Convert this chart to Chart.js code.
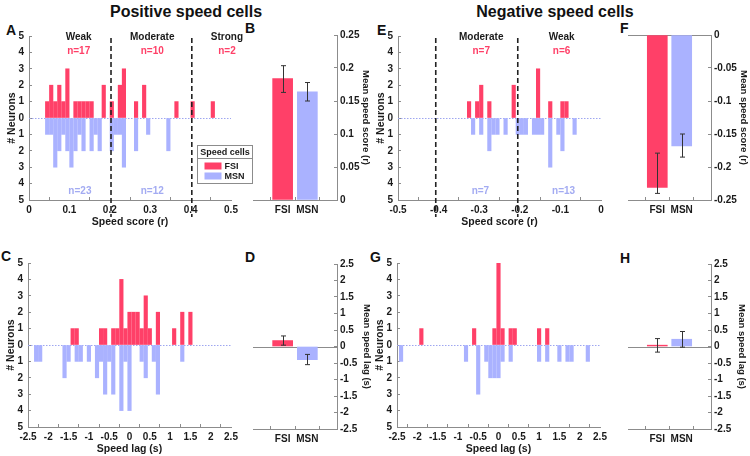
<!DOCTYPE html>
<html>
<head>
<meta charset="utf-8">
<title>Speed cells</title>
<script src="https://cdn.jsdelivr.net/npm/chart.js@4.4.1/dist/chart.umd.min.js"></script>
<style>
  body { margin: 0; width: 750px; height: 456px; position: relative; overflow: hidden; background: #fff;
         font-family: "Liberation Sans", Arial, sans-serif; }
  canvas { position: absolute; }
  .lbl { position: absolute; font-weight: bold; color: #111; line-height: 1; white-space: nowrap; }
  .big { font-size: 16px; transform: translateX(-50%); }
  .pan { font-size: 14px; }
</style>
</head>
<body>
<div class="lbl big" style="left:186px;top:4px">Positive speed cells</div>
<div class="lbl big" style="left:555px;top:4px">Negative speed cells</div>
<div class="lbl pan" style="left:6px;top:23px">A</div>
<div class="lbl pan" style="left:245px;top:21px">B</div>
<div class="lbl pan" style="left:377px;top:23px">E</div>
<div class="lbl pan" style="left:620px;top:21px">F</div>
<div class="lbl pan" style="left:1px;top:249px">C</div>
<div class="lbl pan" style="left:245px;top:250px">D</div>
<div class="lbl pan" style="left:370px;top:250px">G</div>
<div class="lbl pan" style="left:620px;top:251px">H</div>

<script>
const RED = "#ff4068";
const BLUE = "#aab2ff";
const BLUE_TXT = "#a3abf2";
const AXIS = "#8c8c8c";
const INK = "#1a1a1a";

// tick labels
const countTicks = [-5, -4, -3, -2, -1, 0, 1, 2, 3, 4, 5];
const posScoreTicks = [0, 0.1, 0.2, 0.3, 0.4, 0.5];
const negScoreTicks = [-0.5, -0.4, -0.3, -0.2, -0.1, 0];
const lagTicks = [-2.5, -2, -1.5, -1, -0.5, 0, 0.5, 1, 1.5, 2, 2.5];
const meanPosTicks = [0, 0.05, 0.1, 0.15, 0.2, 0.25];
const meanNegTicks = [-0.25, -0.2, -0.15, -0.1, -0.05, 0];
const meanLagTicks = [-2.5, -2, -1.5, -1, -0.5, 0, 0.5, 1, 1.5, 2, 2.5];
const groups = ["FSI", "MSN"];

// A - positive speed score histogram
const posScoreFsiX = [0.045, 0.055, 0.065, 0.075, 0.085, 0.095, 0.115, 0.125, 0.135, 0.145, 0.155, 0.185, 0.205, 0.225, 0.235, 0.265, 0.285, 0.365, 0.405, 0.455];
const posScoreFsiN = [1, 2, 1, 2, 1, 3, 1, 1, 1, 1, 1, 2, 1, 2, 3, 1, 2, 1, 1, 1];
const posScoreMsnX = [0.045, 0.055, 0.065, 0.075, 0.085, 0.095, 0.105, 0.115, 0.125, 0.135, 0.155, 0.165, 0.175, 0.205, 0.215, 0.225, 0.235, 0.265, 0.295, 0.345];
const posScoreMsnN = [1, 1, 3, 2, 1, 2, 3, 2, 1, 2, 2, 1, 2, 2, 1, 1, 3, 2, 1, 2];
const posCuts = [0.203, 0.403];
const posZoneX = [0.123, 0.305, 0.49];
const posZoneName = ["Weak", "Moderate", "Strong"];
const posZoneFsi = ["n=17", "n=10", "n=2"];
const posZoneMsnX = [0.126, 0.305];
const posZoneMsn = ["n=23", "n=12"];

// E - negative speed score histogram
const negScoreFsiX = [-0.325, -0.305, -0.295, -0.275, -0.215, -0.155, -0.125, -0.095, -0.085];
const negScoreFsiN = [1, 1, 2, 1, 2, 3, 1, 1, 1];
const negScoreMsnX = [-0.315, -0.295, -0.275, -0.265, -0.255, -0.235, -0.205, -0.195, -0.185, -0.165, -0.155, -0.145, -0.125, -0.105, -0.095, -0.065];
const negScoreMsnN = [1, 1, 2, 1, 1, 1, 1, 1, 1, 1, 1, 1, 3, 1, 2, 1];
const negCuts = [-0.407, -0.205];
const negZoneX = [-0.295, -0.097];
const negZoneName = ["Moderate", "Weak"];
const negZoneFsi = ["n=7", "n=6"];
const negZoneMsnX = [-0.297, -0.092];
const negZoneMsn = ["n=7", "n=13"];

// C - positive cells speed lag histogram
const posLagFsiX = [-1.4, -1.3, -0.7, -0.6, -0.4, -0.3, -0.2, -0.1, 0, 0.1, 0.2, 0.3, 0.4, 0.5, 0.7, 1.1, 1.3, 1.5];
const posLagFsiN = [1, 1, 1, 1, 1, 1, 4, 1, 2, 2, 2, 1, 3, 1, 2, 1, 2, 2];
const posLagMsnX = [-2.3, -2.2, -1.6, -1.5, -1.3, -1.2, -1.0, -0.8, -0.7, -0.6, -0.5, -0.4, -0.2, -0.1, 0, 0.3, 0.4, 0.6, 0.7, 1.3];
const posLagMsnN = [1, 1, 2, 1, 1, 1, 1, 2, 1, 3, 1, 3, 4, 1, 4, 1, 2, 1, 3, 1];

// G - negative cells speed lag histogram
const negLagFsiX = [-1.9, -0.6, -0.1, 0, 0.1, 0.3, 0.4, 1.0, 1.2];
const negLagFsiN = [1, 1, 1, 5, 1, 1, 1, 1, 1];
const negLagMsnX = [-2.4, -0.8, -0.5, -0.3, -0.2, -0.1, 0, 0.1, 0.3, 1.0, 1.2, 1.5, 1.7, 1.8, 2.2];
const negLagMsnN = [1, 1, 3, 1, 2, 2, 2, 1, 1, 1, 1, 1, 1, 1, 1];

// B, F, D, H - group means with error bar ends
const posScoreMean = [0.184, 0.164];
const posScoreHi = [0.2035, 0.178];
const posScoreLo = [0.163, 0.150];
const negScoreMean = [-0.231, -0.168];
const negScoreHi = [-0.179, -0.150];
const negScoreLo = [-0.240, -0.185];
const posLagMean = [0.18, -0.40];
const posLagHi = [0.32, -0.24];
const posLagLo = [0.04, -0.55];
const negLagMean = [0.04, 0.22];
const negLagHi = [0.24, 0.455];
const negLagLo = [-0.17, -0.02];

Chart.defaults.font.family = "'Liberation Sans', Arial, sans-serif";
Chart.defaults.color = INK;

function fmt(v) {
  return String(Math.round(v * 100) / 100);
}

function fixedTicks(values) {
  return function (scale) {
    scale.ticks = values.map(v => ({ value: v }));
  };
}

function sized(prop, size) {
  return function (scale) {
    scale[prop] = size;
    scale.paddingLeft = 0;
    scale.paddingRight = 0;
    scale.paddingTop = 0;
    scale.paddingBottom = 0;
  };
}

function makeCanvas(box, pad) {
  const c = document.createElement("canvas");
  const w = box.r - box.l + pad.l + pad.r;
  const h = box.b - box.t + pad.t + pad.b;
  c.width = w;
  c.height = h;
  c.style.left = (box.l - pad.l) + "px";
  c.style.top = (box.t - pad.t) + "px";
  c.style.width = w + "px";
  c.style.height = h + "px";
  document.body.appendChild(c);
  return c;
}

function axisBase(min, max, ticks, callback, fitProp, fitSize, padding) {
  return {
    type: "linear",
    min: min,
    max: max,
    offset: false,
    border: { display: true, color: AXIS, width: 1 },
    grid: { display: true, drawOnChartArea: false, drawTicks: true, tickLength: -3, color: AXIS },
    ticks: { color: INK, font: { size: 10, weight: "bold" }, padding: padding, autoSkip: false, maxRotation: 0, callback: callback },
    afterBuildTicks: fixedTicks(ticks),
    afterFit: sized(fitProp, fitSize)
  };
}

// dashed cut lines, zero line, text, legend and error bars
const decor = {
  id: "decor",
  beforeDatasetsDraw(chart, args, o) {
    const ctx = chart.ctx;
    const a = chart.chartArea;
    const y0 = chart.scales.y.getPixelForValue(0);
    ctx.save();
    if (o.zeroDotted) {
      ctx.strokeStyle = "#9ea6f0";
      ctx.lineWidth = 1;
      ctx.setLineDash([1.5, 1.5]);
      ctx.beginPath();
      ctx.moveTo(a.left, Math.round(y0) + 0.5);
      ctx.lineTo(a.right, Math.round(y0) + 0.5);
      ctx.stroke();
    }
    if (o.baseline) {
      ctx.strokeStyle = AXIS;
      ctx.lineWidth = 1;
      ctx.beginPath();
      ctx.moveTo(a.left, Math.round(y0) + 0.5);
      ctx.lineTo(a.right, Math.round(y0) + 0.5);
      ctx.stroke();
    }
    ctx.restore();
  },
  afterDraw(chart, args, o) {
    const ctx = chart.ctx;
    const a = chart.chartArea;
    const xs = chart.scales.x;
    const ys = chart.scales.y;
    ctx.save();

    (o.cuts || []).forEach(v => {
      const px = xs.getPixelForValue(v);
      ctx.strokeStyle = "#222";
      ctx.lineWidth = 1.6;
      ctx.setLineDash([5, 3]);
      ctx.beginPath();
      ctx.moveTo(px, a.top + 2);
      ctx.lineTo(px, a.bottom + 17);
      ctx.stroke();
    });
    ctx.setLineDash([]);

    chart.data.datasets.forEach((ds, i) => {
      if (!ds.errLo) return;
      chart.getDatasetMeta(i).data.forEach((el, j) => {
        const yHi = ys.getPixelForValue(ds.errHi[j]);
        const yLo = ys.getPixelForValue(ds.errLo[j]);
        const x = Math.round(el.x) + 0.5;
        ctx.strokeStyle = "#333";
        ctx.lineWidth = 1;
        ctx.beginPath();
        ctx.moveTo(x, yHi);
        ctx.lineTo(x, yLo);
        ctx.moveTo(x - 2.5, yHi);
        ctx.lineTo(x + 2.5, yHi);
        ctx.moveTo(x - 2.5, yLo);
        ctx.lineTo(x + 2.5, yLo);
        ctx.stroke();
      });
    });

    ctx.textAlign = "center";
    ctx.textBaseline = "middle";
    (o.texts || []).forEach(t => {
      ctx.font = "bold 10px 'Liberation Sans', Arial, sans-serif";
      ctx.fillStyle = t.color;
      ctx.fillText(t.text, xs.getPixelForValue(t.x), ys.getPixelForValue(t.y));
    });

    if (o.legend) {
      const bx = Math.round(a.right - 34) + 0.5;
      const by = Math.round(a.top + 109) + 0.5;
      const bw = 55, bh = 38;
      ctx.fillStyle = "#fff";
      ctx.fillRect(bx, by, bw, bh);
      ctx.strokeStyle = AXIS;
      ctx.lineWidth = 1;
      ctx.strokeRect(bx, by, bw, bh);
      ctx.beginPath();
      ctx.moveTo(bx, by + 13);
      ctx.lineTo(bx + bw, by + 13);
      ctx.stroke();
      ctx.font = "bold 9px 'Liberation Sans', Arial, sans-serif";
      ctx.fillStyle = INK;
      ctx.fillText(o.legendTitle, bx + bw / 2, by + 7);
      ctx.textAlign = "left";
      chart.data.datasets.forEach((ds, i) => {
        const ry = by + 20.5 + i * 10;
        ctx.fillStyle = ds.backgroundColor;
        ctx.fillRect(bx + 7, ry - 3.5, 17, 7);
        ctx.fillStyle = INK;
        ctx.fillText(ds.label, bx + 27, ry + 0.5);
      });
    }
    ctx.restore();
  }
};

function zoneTexts(zx, names, fsi, mx, msn) {
  const out = [];
  zx.forEach((x, i) => {
    out.push({ x: x, y: 4.95, text: names[i], color: INK });
    out.push({ x: x, y: 4.1, text: fsi[i], color: RED });
  });
  mx.forEach((x, i) => out.push({ x: x, y: -4.45, text: msn[i], color: BLUE_TXT }));
  return out;
}

function histogram(box, cfg) {
  const pad = { l: 23, r: cfg.padRight, t: 8, b: 28 };
  const canvas = makeCanvas(box, pad);
  const xAxis = axisBase(cfg.xMin, cfg.xMax, cfg.xTicks, v => fmt(v), "height", pad.b, 7);
  xAxis.title = { display: true, text: cfg.xTitle, color: INK, font: { size: 10.5, weight: "bold" }, padding: 0 };
  const yAxis = axisBase(-5, 5, countTicks, v => String(Math.abs(v)), "width", pad.l, 8);
  yAxis.title = { display: true, text: "# Neurons", color: INK, font: { size: 10.5, weight: "bold" }, padding: 0 };
  return new Chart(canvas, {
    type: "bar",
    data: {
      datasets: [
        { label: "FSI", data: cfg.fsiX.map((x, i) => ({ x: x, y: cfg.fsiN[i] })), backgroundColor: RED, grouped: false, barThickness: 3.5 },
        { label: "MSN", data: cfg.msnX.map((x, i) => ({ x: x, y: -cfg.msnN[i] })), backgroundColor: BLUE, grouped: false, barThickness: 3.5 }
      ]
    },
    options: {
      responsive: false,
      animation: false,
      devicePixelRatio: 1,
      layout: { padding: { left: 0, right: pad.r, top: pad.t, bottom: 0 } },
      plugins: {
        legend: { display: false },
        tooltip: { enabled: false },
        decor: { zeroDotted: true, cuts: cfg.cuts || [], texts: cfg.texts || [], legend: !!cfg.legend, legendTitle: "Speed cells" }
      },
      scales: { x: xAxis, y: yAxis }
    },
    plugins: [decor]
  });
}

function meanBars(box, cfg) {
  const pad = { l: 2, r: cfg.padRight, t: 8, b: 16 };
  const canvas = makeCanvas(box, pad);
  const xAxis = axisBase(-0.2, 3.2, [1, 2], v => groups[v - 1], "height", pad.b, 7);
  const yAxis = axisBase(cfg.yMin, cfg.yMax, cfg.yTicks, v => fmt(v), "width", pad.r, 6);
  yAxis.position = "right";
  yAxis.title = { display: true, text: cfg.yTitle, color: INK, font: { size: 9.5, weight: "bold" }, padding: 0 };
  return new Chart(canvas, {
    type: "bar",
    data: {
      datasets: [{
        label: "mean",
        data: cfg.means.map((m, i) => ({ x: i + 1, y: m })),
        backgroundColor: [RED, BLUE],
        barThickness: 20,
        errHi: cfg.hi,
        errLo: cfg.lo
      }]
    },
    options: {
      responsive: false,
      animation: false,
      devicePixelRatio: 1,
      layout: { padding: { left: pad.l, right: 0, top: pad.t, bottom: 0 } },
      plugins: {
        legend: { display: false },
        tooltip: { enabled: false },
        decor: { baseline: true }
      },
      scales: { x: xAxis, y: yAxis }
    },
    plugins: [decor]
  });
}

histogram({ l: 29, r: 231, t: 36, b: 200 }, {
  padRight: 24, xMin: 0, xMax: 0.5, xTicks: posScoreTicks, xTitle: "Speed score (r)",
  fsiX: posScoreFsiX, fsiN: posScoreFsiN, msnX: posScoreMsnX, msnN: posScoreMsnN,
  cuts: posCuts, texts: zoneTexts(posZoneX, posZoneName, posZoneFsi, posZoneMsnX, posZoneMsn), legend: true
});

histogram({ l: 398, r: 601, t: 36, b: 200 }, {
  padRight: 10, xMin: -0.5, xMax: 0, xTicks: negScoreTicks, xTitle: "Speed score (r)",
  fsiX: negScoreFsiX, fsiN: negScoreFsiN, msnX: negScoreMsnX, msnN: negScoreMsnN,
  cuts: negCuts, texts: zoneTexts(negZoneX, negZoneName, negZoneFsi, negZoneMsnX, negZoneMsn)
});

histogram({ l: 28, r: 231, t: 263, b: 427 }, {
  padRight: 10, xMin: -2.5, xMax: 2.5, xTicks: lagTicks, xTitle: "Speed lag (s)",
  fsiX: posLagFsiX, fsiN: posLagFsiN, msnX: posLagMsnX, msnN: posLagMsnN
});

histogram({ l: 397, r: 600, t: 263, b: 427 }, {
  padRight: 10, xMin: -2.5, xMax: 2.5, xTicks: lagTicks, xTitle: "Speed lag (s)",
  fsiX: negLagFsiX, fsiN: negLagFsiN, msnX: negLagMsnX, msnN: negLagMsnN
});

meanBars({ l: 253, r: 337, t: 35, b: 200 }, {
  padRight: 34, yMin: 0, yMax: 0.25, yTicks: meanPosTicks, yTitle: "Mean speed score (r)",
  means: posScoreMean, hi: posScoreHi, lo: posScoreLo
});

meanBars({ l: 628, r: 711, t: 35, b: 200 }, {
  padRight: 38, yMin: -0.25, yMax: 0, yTicks: meanNegTicks, yTitle: "Mean speed score (r)",
  means: negScoreMean, hi: negScoreHi, lo: negScoreLo
});

meanBars({ l: 253, r: 337, t: 264, b: 429 }, {
  padRight: 35, yMin: -2.5, yMax: 2.5, yTicks: meanLagTicks, yTitle: "Mean speed lag (s)",
  means: posLagMean, hi: posLagHi, lo: posLagLo
});

meanBars({ l: 628, r: 711, t: 264, b: 429 }, {
  padRight: 36, yMin: -2.5, yMax: 2.5, yTicks: meanLagTicks, yTitle: "Mean speed lag (s)",
  means: negLagMean, hi: negLagHi, lo: negLagLo
});
</script>
</body>
</html>
